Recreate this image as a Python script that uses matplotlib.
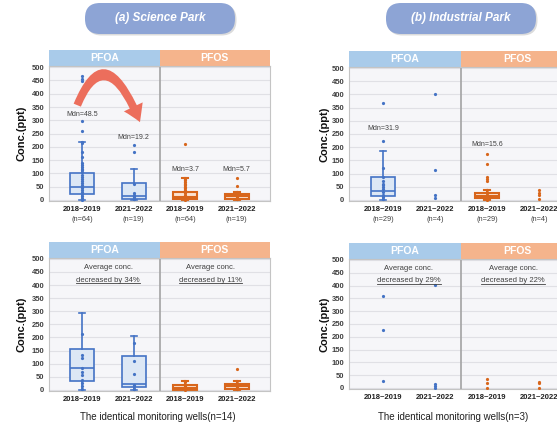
import matplotlib.pyplot as plt
from matplotlib.patches import Rectangle, FancyBboxPatch, FancyArrowPatch
from matplotlib.path import Path
from matplotlib.lines import Line2D
from matplotlib.transforms import IdentityTransform

plt.rcParams['font.family'] = ['Liberation Sans', 'DejaVu Sans']

# x positions 1..4 -> PFOA 2018~2019, PFOA 2021~2022, PFOS 2018~2019, PFOS 2021~2022
periods = ['2018~2019', '2021~2022', '2018~2019', '2021~2022']
compounds = ['PFOA', 'PFOS']

# (a) Science Park, all wells
sci_all_n = [64, 19, 64, 19]
sci_all_points = [
    [465, 456, 448, 297, 259, 220, 215, 182, 160, 140, 133, 125, 118, 112, 105,
     95, 88, 80, 72, 65, 58, 50, 45, 38, 30, 22, 15, 8, 3, 0],
    [207, 182, 60, 25, 20, 15, 10, 5, 2],
    [209, 80, 75, 68, 60, 55, 50, 45, 38, 30, 25, 20, 15, 10, 5, 2, 0],
    [84, 53, 30, 22, 15, 10, 5, 2],
]
# (whislo, q1, median, q3, whishi)
sci_all_box = [(0, 21, 50, 102, 220), (0, 5, 16, 63, 115),
               (0, 3, 12, 28, 81), (0, 5, 13, 23, 31)]
sci_all_mdn = ['Mdn=48.5', 'Mdn=19.2', 'Mdn=3.7', 'Mdn=5.7']

# (b) Industrial Park, all wells
ind_all_n = [29, 4, 29, 4]
ind_all_points = [
    [366, 223, 120, 88, 70, 62, 55, 48, 40, 30, 20, 10, 3],
    [400, 113, 19, 8],
    [173, 136, 88, 80, 73, 38, 28, 20, 12, 5, 0],
    [37, 27, 20, 3],
]
ind_all_box = [(0, 15, 32, 88, 185), None, (0, 6, 16, 28, 38), None]
ind_all_mdn = ['Mdn=31.9', None, 'Mdn=15.6', None]

# (a) Science Park, identical wells (n=14)
sci_same_points = [
    [215, 133, 123, 83, 70, 57, 37, 25, 13, 2],
    [178, 112, 60, 20, 15, 5, 2],
    [30, 15, 8, 3, 1],
    [79, 25, 12, 5, 2],
]
sci_same_box = [(0, 34, 83, 155, 293), (0, 10, 22, 131, 206),
                (0, 1, 9, 17, 34), (0, 3, 13, 22, 32)]
sci_same_change = ['decreased by 34%', 'decreased by 11%']

# (b) Industrial Park, identical wells (n=3)
ind_same_points = [
    [358, 225, 27],
    [403, 14, 8, 0],
    [34, 21, 0],
    [24, 18, 0],
]
ind_same_box = [None, None, None, None]
ind_same_change = ['decreased by 29%', 'decreased by 22%']

dark = ['#4473c5', '#4473c5', '#d8661c', '#d8661c']
light = ['#dce7f5', '#dce7f5', '#fce3d1', '#fce3d1']
header_colors = ['#a9cbea', '#f5b48c']
text_gray = '#404040'


def draw_panel(ax, points, boxes):
    ax.set_facecolor('#f6f6f9')
    ax.set_xlim(0.35, 4.65)
    ax.set_ylim(-4, 504)
    ax.set_yticks(range(0, 501, 50))
    ax.grid(axis='y', color='#e0e0e5', lw=0.8)
    ax.set_axisbelow(True)
    for s in ax.spines.values():
        s.set_color('#c4c4c4')
    ax.tick_params(length=0, labelsize=5.5, labelcolor=text_gray, pad=3.5)
    for lab in ax.get_yticklabels():
        lab.set_fontweight('bold')
    ax.axvline(2.5, color='#a3a3a3', lw=1.2)

    # header bars
    for i, name in enumerate(compounds):
        ax.add_patch(Rectangle((i * 0.5, 1.0), 0.5, 0.12, transform=ax.transAxes,
                               facecolor=header_colors[i], edgecolor='none',
                               clip_on=False))
        ax.text(i * 0.5 + 0.25, 1.06, name, transform=ax.transAxes, ha='center',
                va='center', color='white', fontweight='bold', fontsize=7.5)

    for i, (pts, box) in enumerate(zip(points, boxes)):
        x = i + 1
        if box is not None:
            lo, q1, med, q3, hi = box
            stats = [dict(whislo=lo, q1=q1, med=med, q3=q3, whishi=hi, fliers=[])]
            lw = 1.2 if i < 2 else 1.5
            ax.bxp(stats, positions=[x], widths=0.47, capwidths=0.12,
                   patch_artist=True, showfliers=False,
                   boxprops=dict(facecolor=light[i], edgecolor=dark[i], lw=lw),
                   whiskerprops=dict(color=dark[i], lw=lw),
                   capprops=dict(color=dark[i], lw=lw),
                   medianprops=dict(color=dark[i], lw=lw))
        ax.plot([x] * len(pts), pts, 'o', ms=2.3, color=dark[i], mec='none', zorder=4)
    ax.set_xticks([1, 2, 3, 4])
    ax.set_xticklabels(periods, fontweight='bold', color='#202020')


fig = plt.figure(figsize=(5.57, 4.24), dpi=100)

# background layer in pixel units for the title pills
bg = fig.add_axes([0, 0, 1, 1])
bg.set_xlim(0, 557)
bg.set_ylim(0, 424)
bg.axis('off')
for x0, title in [(85, '(a) Science Park'), (386, '(b) Industrial Park')]:
    bg.add_patch(FancyBboxPatch((x0 + 1.5, 424 - 35.5), 150, 31,
                                boxstyle='round,pad=0,rounding_size=15',
                                facecolor='#9a9a9a', edgecolor='none', alpha=0.35))
    bg.add_patch(FancyBboxPatch((x0, 424 - 34), 150, 31,
                                boxstyle='round,pad=0,rounding_size=15',
                                facecolor='#8da4d5', edgecolor='none'))
    bg.text(x0 + 75, 424 - 18.5, title, color='white', fontsize=8.5,
            fontweight='bold', fontstyle='italic', ha='center', va='center')

ax_a1 = fig.add_axes([49 / 557, 0.526, 221 / 557, 0.318])
ax_b1 = fig.add_axes([349 / 557, 0.526, 224 / 557, 0.316])
ax_a2 = fig.add_axes([49 / 557, 0.078, 221 / 557, 0.314])
ax_b2 = fig.add_axes([349 / 557, 0.0825, 224 / 557, 0.307])

draw_panel(ax_a1, sci_all_points, sci_all_box)
draw_panel(ax_b1, ind_all_points, ind_all_box)
draw_panel(ax_a2, sci_same_points, sci_same_box)
draw_panel(ax_b2, ind_same_points, ind_same_box)

for ax, lx in [(ax_a1, -0.10), (ax_a2, -0.10), (ax_b1, -0.089), (ax_b2, -0.089)]:
    ax.set_ylabel('Conc.(ppt)', fontsize=8, fontweight='bold', color='#111111')
    ax.yaxis.set_label_coords(lx, 0.5)

# sample sizes under the tick labels
for ax, ns in [(ax_a1, sci_all_n), (ax_b1, ind_all_n)]:
    for i, n in enumerate(ns):
        ax.annotate(f'(n={n})', xy=(i + 1, 0), xycoords=('data', 'axes fraction'),
                    xytext=(0, -13.5), textcoords='offset points', ha='center',
                    va='center', fontsize=5.3, color=text_gray)

# median labels
mdn_label_y = {ax_a1: [320, 237, 116, 116], ax_b1: [272, None, 212, None]}
for ax, labels in [(ax_a1, sci_all_mdn), (ax_b1, ind_all_mdn)]:
    for i, txt in enumerate(labels):
        if txt:
            ax.text(i + 1, mdn_label_y[ax][i], txt, ha='center', va='center',
                    fontsize=5, color=text_gray)

# red arrow: decrease from 2018~2019 to 2021~2022
arrow_path = Path([(0.9, 357), (1.45, 615), (2.12, 293)],
                  [Path.MOVETO, Path.CURVE3, Path.CURVE3])
ax_a1.add_patch(FancyArrowPatch(path=arrow_path, transform=ax_a1.transData,
                                arrowstyle='simple,head_width=0.75,head_length=0.6,tail_width=0.28',
                                mutation_scale=20, color='#ec6e5c', lw=0,
                                clip_on=False, zorder=5))

# average change notes
underlined = []
for ax, changes in [(ax_a2, sci_same_change), (ax_b2, ind_same_change)]:
    for xc, txt in zip([1.5, 3.5], changes):
        ax.text(xc, 468, 'Average conc.', ha='center', va='center', fontsize=5.5,
                color=text_gray)
        underlined.append(ax.text(xc, 418, txt, ha='center', va='center',
                                  fontsize=5.5, color=text_gray))

fig.text(158 / 557, 1 - 417 / 424, 'The identical monitoring wells(n=14)',
         ha='center', va='center', fontsize=7, color='#202020')
fig.text(453 / 557, 1 - 417 / 424, 'The identical monitoring wells(n=3)',
         ha='center', va='center', fontsize=7, color='#202020')

fig.canvas.draw()
for t in underlined:
    bb = t.get_window_extent()
    fig.add_artist(Line2D([bb.x0, bb.x1], [bb.y0 + 0.5, bb.y0 + 0.5],
                          transform=IdentityTransform(), color=text_gray, lw=0.6))

fig.savefig('out.png', dpi=100)
